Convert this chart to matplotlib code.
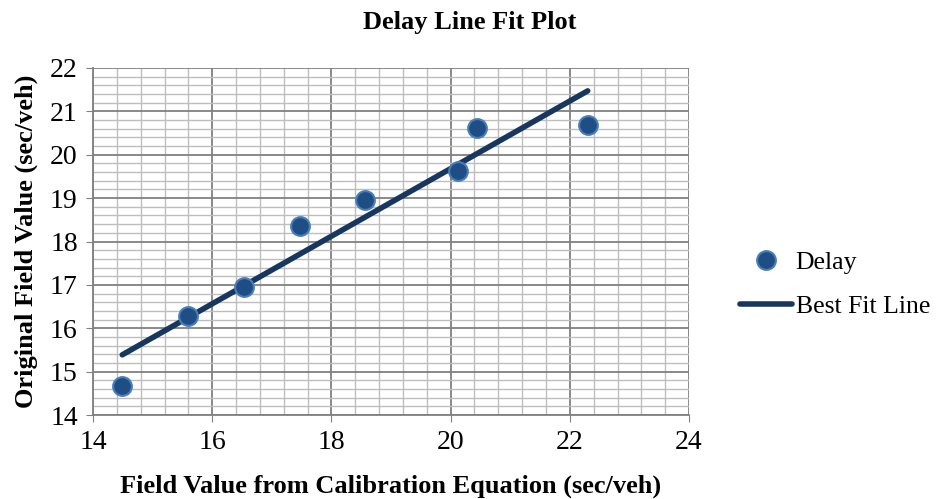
import matplotlib.pyplot as plt
import numpy as np

plt.rcParams['font.family'] = ['Liberation Serif', 'DejaVu Serif']

# measured delay values
calib_x = [14.49, 15.60, 16.54, 17.48, 18.57, 20.12, 20.44, 22.30]
field_y = [14.67, 16.29, 16.95, 18.36, 18.96, 19.63, 20.62, 20.69]

# best fit line ends
fit_x = [14.49, 22.30]
fit_y = [15.39, 21.47]

fig = plt.figure(figsize=(9.4, 4.99), dpi=100)
ax = fig.add_axes([0.099, 0.168, 0.634, 0.696])

ax.set_xlim(14, 24)
ax.set_ylim(14, 22)
ax.set_xticks(np.arange(14, 25, 2))
ax.set_yticks(np.arange(14, 23, 1))
ax.set_xticks(np.arange(14, 24.01, 0.4), minor=True)
ax.set_yticks(np.arange(14, 22.01, 0.2), minor=True)
ax.grid(which='major', color='#808080', linewidth=1.3)
ax.grid(which='minor', color='#bdbdbd', linewidth=1.0)
ax.set_axisbelow(True)
for s in ['top', 'right']:
    ax.spines[s].set_visible(False)
for s in ['left', 'bottom']:
    ax.spines[s].set_color('#808080')
    ax.spines[s].set_linewidth(1.3)
ax.tick_params(which='major', direction='out', length=5, color='#808080',
               labelsize=20, pad=6)
ax.tick_params(which='minor', length=0)

ax.plot(calib_x, field_y, 'o', ms=13.5, color='#1f4e85', mec='#4a7ebb',
        mew=1.5, label='Delay', zorder=3)
ax.plot(fit_x, fit_y, '-', color='#17375e', lw=4, label='Best Fit Line',
        solid_capstyle='round', zorder=2)

fig.text(0.5, 0.955, 'Delay Line Fit Plot', fontsize=19, fontweight='bold',
         ha='center', va='center')
ax.set_xlabel('Field Value from Calibration Equation (sec/veh)',
              fontsize=19, fontweight='bold', labelpad=14)
ax.set_ylabel('Original Field Value (sec/veh)', fontsize=19,
              fontweight='bold', labelpad=9)

fig.legend(loc='center left', bbox_to_anchor=(0.763, 0.43), frameon=False,
           fontsize=18.5, handlelength=2.0, handletextpad=0.15, labelspacing=0.8)

fig.savefig('out.png')
